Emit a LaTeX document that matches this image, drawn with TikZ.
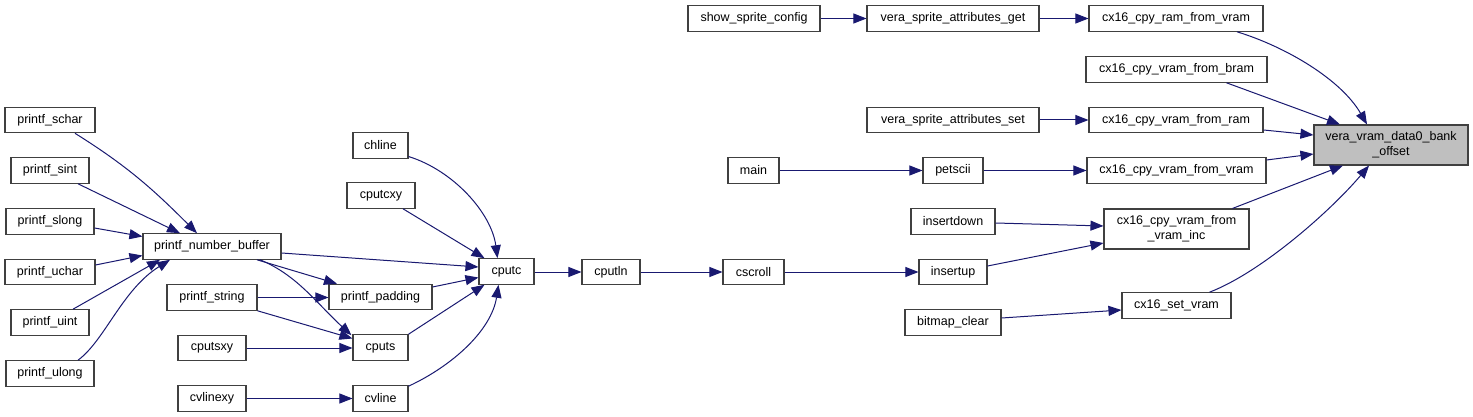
\documentclass[tikz,border=0pt]{standalone}
\usepackage{fontspec}
\setmainfont{Liberation Sans}
\usetikzlibrary{arrows.meta,calc}
\definecolor{edgecol}{HTML}{191970}
\definecolor{boxcol}{HTML}{404040}
\definecolor{hilite}{HTML}{BFBFBF}
\tikzset{
  fn/.style={draw=boxcol, line width=1.1pt, fill=white, inner sep=0pt, minimum height=25.5pt, font=\fontsize{12.5pt}{15pt}\selectfont, text=black, align=center},
  fn2/.style={fn, minimum height=40pt},
  edge/.style={draw=edgecol, line width=1pt, -{Triangle[length=13pt,width=10pt]}}
}
\begin{document}
\begin{tikzpicture}[x=1pt,y=-1pt]
\useasboundingbox (0,0) rectangle (1473,417);
% column 1
\node[fn, minimum width=90pt] (pschar) at (50,120) {printf\_schar};
\node[fn, minimum width=78pt] (psint) at (50,170.5) {printf\_sint};
\node[fn, minimum width=88pt] (pslong) at (50,221.5) {printf\_slong};
\node[fn, minimum width=90pt] (puchar) at (50,272) {printf\_uchar};
\node[fn, minimum width=78pt] (puint) at (50,322.5) {printf\_uint};
\node[fn, minimum width=88pt] (pulong) at (50,373.5) {printf\_ulong};
% column 2
\node[fn, minimum width=138pt] (pnb) at (212,246.5) {printf\_number\_buffer};
\node[fn, minimum width=90pt] (pstring) at (212,297.5) {printf\_string};
\node[fn, minimum width=68pt] (cputsxy) at (212,348) {cputsxy};
\node[fn, minimum width=68pt] (cvlinexy) at (212,398.5) {cvlinexy};
% column 3
\node[fn, minimum width=55pt] (chline) at (380.5,145.5) {chline};
\node[fn, minimum width=68pt] (cputcxy) at (381,195.5) {cputcxy};
\node[fn, minimum width=103pt] (ppadding) at (380.5,297) {printf\_padding};
\node[fn, minimum width=55pt] (cputs) at (380.5,347.5) {cputs};
\node[fn, minimum width=55pt] (cvline) at (380.5,398.5) {cvline};
% chain
\node[fn, minimum width=55pt] (cputc) at (506.5,271.5) {cputc};
\node[fn, minimum width=58pt] (cputln) at (611,272) {cputln};
\node[fn, minimum width=61pt] (cscroll) at (753.5,272) {cscroll};
\node[fn, minimum width=132pt] (ssc) at (754,18.5) {show\_sprite\_config};
\node[fn, minimum width=51pt] (main) at (753.5,170.5) {main};
% column 5
\node[fn, minimum width=172pt] (vsag) at (953,18.5) {vera\_sprite\_attributes\_get};
\node[fn, minimum width=172pt] (vsas) at (953,120) {vera\_sprite\_attributes\_set};
\node[fn, minimum width=60pt] (petscii) at (953,170.5) {petscii};
\node[fn, minimum width=84pt] (insertdown) at (953,221.5) {insertdown};
\node[fn, minimum width=68pt] (insertup) at (953,272) {insertup};
\node[fn, minimum width=96pt] (bmclear) at (953,322.5) {bitmap\_clear};
% column 6
\node[fn, minimum width=174pt] (crfv) at (1176,18.5) {cx16\_cpy\_ram\_from\_vram};
\node[fn, minimum width=181pt] (cvfb) at (1176.5,69.5) {cx16\_cpy\_vram\_from\_bram};
\node[fn, minimum width=174pt] (cvfr) at (1176,120) {cx16\_cpy\_vram\_from\_ram};
\node[fn, minimum width=179pt] (cvfv) at (1176.5,170.5) {cx16\_cpy\_vram\_from\_vram};
\node[fn2, minimum width=145pt] (cvfvi) at (1176.5,229) {cx16\_cpy\_vram\_from\\\_vram\_inc};
\node[fn, minimum width=109pt] (csv) at (1176.5,305.5) {cx16\_set\_vram};
% target
\node[fn2, minimum width=154pt, fill=hilite] (vvdbo) at (1391,145) {vera\_vram\_data0\_bank\\\_offset};

% edges into printf_number_buffer
\draw[edge] ($(pschar.south)+(25,0)$) to[out=-32,in=135] ($(pnb.north)+(-15,0)$);
\draw[edge] ($(psint.south)+(28,0)$) -- ($(pnb.north)+(-32,0)$);
\draw[edge] ($(pslong.east)+(0,6.5)$) -- ($(pnb.west)+(0,-10)$);
\draw[edge] ($(puchar.east)+(0,-7)$) -- ($(pnb.west)+(0,9)$);
\draw[edge] ($(puint.north)+(23,0)$) -- ($(pnb.south)+(-52,0)$);
\draw[edge] ($(pulong.north)+(28,0)$) .. controls ($(pulong.north)+(55,-20)$) and ($(pnb.south)+(-90,30)$) .. ($(pnb.south)+(-42,0)$);
% out of printf_number_buffer
\draw[edge] ($(pnb.east)+(0,6.5)$) -- ($(cputc.west)+(0,-4.5)$);
\draw[edge] ($(pnb.south)+(45,0)$) -- ($(ppadding.north)+(-43.5,0)$);
\draw[edge] ($(pnb.south)+(48,0)$) .. controls ($(pnb.south)+(85,15)$) and ($(cputs.north west)+(-35,-30)$) .. ($(cputs.north west)+(-1,1)$);
% printf_string
\draw[edge] (pstring.east) -- (pstring.east -| ppadding.west);
\draw[edge] (pstring.south east) -- ($(cputs.west)+(0,-9)$);
\draw[edge] (cputsxy.east) -- (cputsxy.east -| cputs.west);
\draw[edge] (cvlinexy.east) -- (cvlinexy.east -| cvline.west);
% into cputc
\draw[edge] ($(chline.east)+(0,11)$) .. controls ($(chline.east)+(45,25)$) and ($(cputc.north)+(-15,-45)$) .. ($(cputc.north)+(-9,0)$);
\draw[edge] ($(cputcxy.south)+(22,0)$) -- ($(cputc.north)+(-22,0)$);
\draw[edge] ($(ppadding.east)+(0,-10)$) -- ($(cputc.west)+(0,6)$);
\draw[edge] (cputs.north east) -- ($(cputc.south)+(-22,0)$);
\draw[edge] ($(cvline.north east)+(0,1)$) .. controls ($(cvline.north east)+(45,-20)$) and ($(cputc.south)+(-15,45)$) .. ($(cputc.south)+(-8,0)$);
% chain
\draw[edge] (cputc.east |- cputln.west) -- (cputln.west);
\draw[edge] (cputln) -- (cscroll);
\draw[edge] (cscroll) -- (insertup);
\draw[edge] (ssc) -- (vsag);
\draw[edge] (vsag) -- (crfv);
\draw[edge] (vsas) -- (cvfr);
\draw[edge] (main) -- (petscii);
\draw[edge] (petscii) -- (petscii -| cvfv.west);
\draw[edge] ($(insertup.east)+(0,-6)$) -- ($(cvfvi.west)+(0,14)$);
\draw[edge] ($(insertdown.east)+(0,1.5)$) -- ($(cvfvi.west)+(0,-3)$);
\draw[edge] ($(bmclear.east)+(0,-4.5)$) -- ($(csv.west)+(0,4.5)$);
% into target
\draw[edge] ($(crfv.south)+(61,0)$) .. controls ($(crfv.south)+(110,15)$) and ($(vvdbo.north)+(-50,-45)$) .. ($(vvdbo.north)+(-24,0)$);
\draw[edge] ($(cvfb.south)+(50,0)$) -- ($(vvdbo.north)+(-51,0)$);
\draw[edge] ($(cvfr.east)+(0,10)$) -- ($(vvdbo.west)+(0,-10)$);
\draw[edge] ($(cvfv.east)+(0,-10.5)$) -- ($(vvdbo.west)+(0,9)$);
\draw[edge] ($(cvfvi.north)+(56,0)$) -- ($(vvdbo.south)+(-48,0)$);
\draw[edge] ($(csv.north)+(33,0)$) .. controls ($(csv.north)+(85,-20)$) and ($(vvdbo.south)+(-60,45)$) .. ($(vvdbo.south)+(-22,0)$);
\end{tikzpicture}
\end{document}
